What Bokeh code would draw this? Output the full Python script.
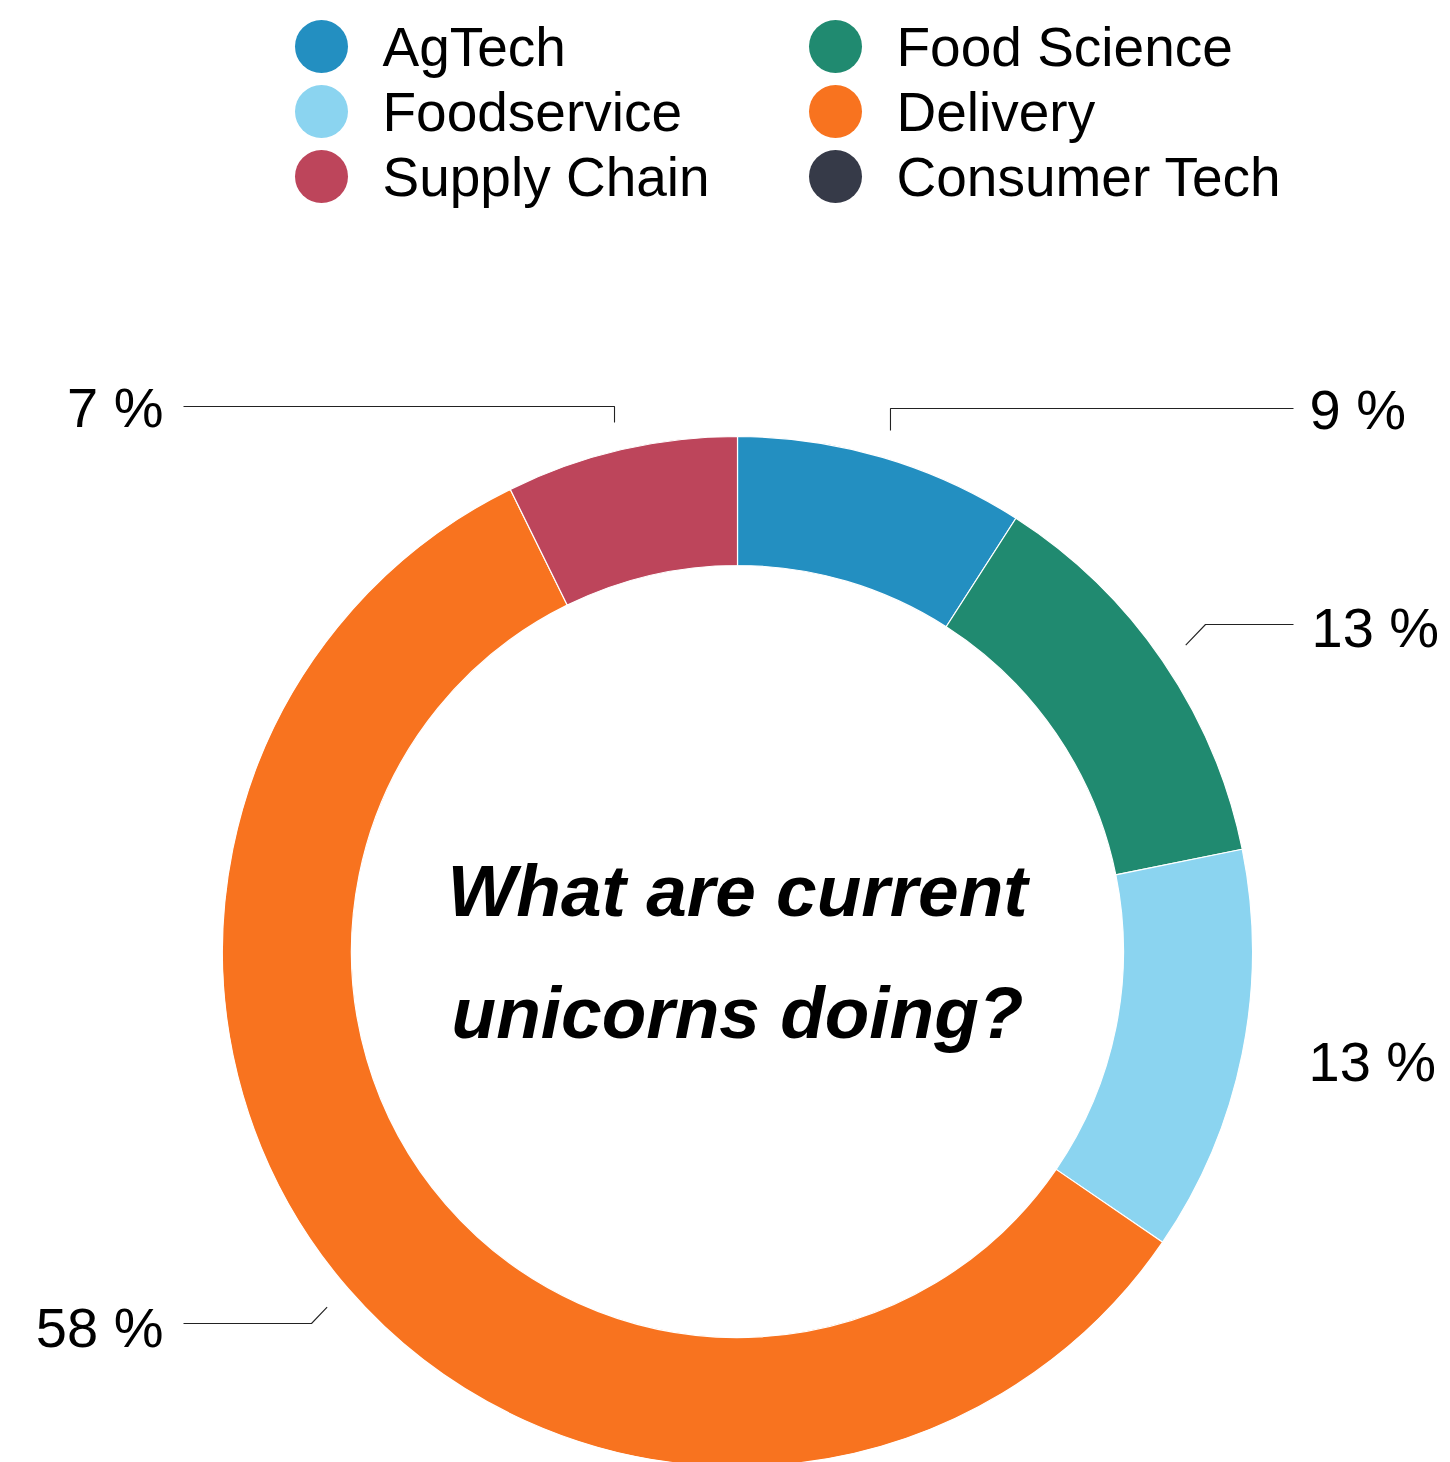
import numpy as np
from bokeh.plotting import figure
from bokeh.models import Range1d, ColumnDataSource
from bokeh.embed import file_html
from bokeh.resources import INLINE
from bokeh.core.properties import value

# ---- data ----
categories = ["AgTech", "Food Science", "Foodservice", "Delivery", "Supply Chain", "Consumer Tech"]
counts = [5, 7, 7, 32, 4, 0]
colors = ["#238fc1", "#208a70", "#8bd4f0", "#f8731f", "#bd455b", "#363a48"]
center_lines = ["What are current", "unicorns doing?"]

W, H = 1450, 1462
FONT = "Liberation Sans"

def Y(py):
    return H - py

p = figure(width=W, height=H, output_backend="svg", toolbar_location=None,
           x_range=Range1d(0, W), y_range=Range1d(0, H),
           x_axis_type=None, y_axis_type=None, min_border=0)
p.grid.visible = False
p.outline_line_color = None
p.background_fill_color = "white"
p.border_fill_color = "white"

# ---- donut ----
cx, cy = 737, Y(951)
r_out, r_in = 515, 386
total = float(sum(counts))
fr = np.array(counts) / total
cum = np.concatenate([[0], np.cumsum(fr)])
starts = np.pi / 2 - cum[:-1] * 2 * np.pi
ends = np.pi / 2 - cum[1:] * 2 * np.pi
mask = [c > 0 for c in counts]
src_nz = ColumnDataSource(dict(start=starts[mask], end=ends[mask],
                               color=[c for c, m in zip(colors, mask) if m]))
p.annular_wedge(x=cx, y=cy, inner_radius=r_in, outer_radius=r_out,
                start_angle="start", end_angle="end", direction="clock",
                fill_color="color", line_color="white", line_width=1.2, source=src_nz)

# ---- percentage labels with leader lines ----
pct = [f"{round(f*100)} %" for f in fr]
# layout: label position (px), alignment, leader elbow (px) or None
layout = {
    "AgTech":       dict(tx=1309, ty=409, align="left",  elbow="vert", ey=408, lx=1293),
    "Food Science": dict(tx=1311, ty=627, align="left",  elbow=(1205, 624), lx=1293),
    "Foodservice":  dict(tx=1308, ty=1061, align="left", elbow=None),
    "Delivery":     dict(tx=163, ty=1327, align="right", elbow=(311, 1323), lx=183),
    "Supply Chain": dict(tx=163, ty=407, align="right",  elbow="vert", ey=406, lx=183),
}
r_anchor = 543
for i, cat in enumerate(categories):
    if counts[i] == 0 or cat not in layout:
        continue
    L = layout[cat]
    mid = (cum[i] + cum[i + 1]) / 2 * 2 * np.pi  # clockwise from top
    ax = 737 + r_anchor * np.sin(mid)
    ay = 951 - r_anchor * np.cos(mid)
    p.text(x=[L["tx"]], y=[Y(L["ty"])], text=[pct[i]], text_font=value(FONT),
           text_font_size="56px", text_color="black", text_align=L["align"],
           text_baseline="middle")
    if L["elbow"] is None:
        continue
    if L["elbow"] == "vert":
        xs = [ax, ax, L["lx"]]
        ys = [ay, L["ey"], L["ey"]]
    else:
        ex, ey = L["elbow"]
        xs = [ax, ex, L["lx"]]
        ys = [ay, ey, ey]
    p.line(x=xs, y=[Y(v) for v in ys], line_color="#222222", line_width=1.1)

# ---- center text ----
p.text(x=[737, 737], y=[Y(890), Y(1012)], text=center_lines, text_font=value(FONT),
       text_font_style="bold italic", text_font_size="73px", text_color="black",
       text_align="center", text_baseline="middle")

# ---- legend ----
leg_x = [321, 835]
leg_y = [46, 111, 176]
lx, ly, lt, lc = [], [], [], []
for i, cat in enumerate(categories):
    col, row = i % 2, i // 2
    lx.append(leg_x[col]); ly.append(Y(leg_y[row])); lt.append(cat); lc.append(colors[i])
p.scatter(x=lx, y=ly, size=53, marker="circle", fill_color=lc, line_color=None)
p.text(x=[v + 61 for v in lx], y=ly, text=lt, text_font=value(FONT),
       text_font_size="55px", text_color="black", text_align="left",
       text_baseline="middle")

open("out.html", "w").write(file_html(p, INLINE))
